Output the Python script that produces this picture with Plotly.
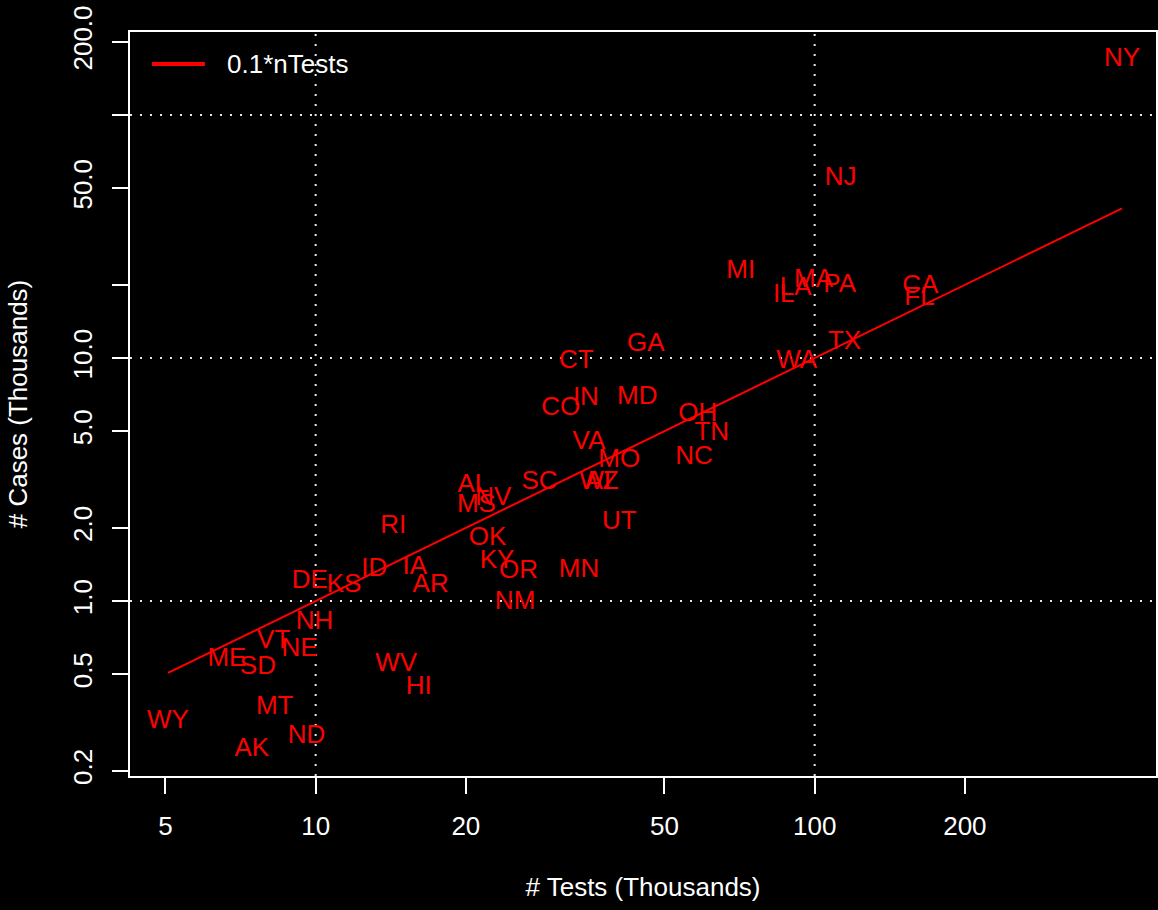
import plotly.graph_objects as go

# Data (thousands)
states = ["NY","NJ","MI","MA","PA","LA","IL","CA","FL","GA","TX","CT","WA","IN","MD","CO",
          "OH","TN","VA","NC","MO","SC","WI","AZ","AL","MS","NV","UT","RI","OK","KY","OR",
          "MN","NM","ID","IA","AR","DE","KS","NH","VT","NE","ME","SD","WV","HI","MT","ND",
          "AK","WY"]
tests = [413, 112.7, 71.1, 99.5, 112.2, 91.6, 86.7, 162.9, 162.2, 45.9, 114.8, 33.3, 92.0, 34.8,
         44.1, 31.0, 58.3, 62.2, 35.3, 57.3, 40.6, 28.1, 36.3, 37.5, 20.7, 21.0, 22.7, 40.6, 14.3,
         22.1, 23.1, 25.5, 33.7, 25.1, 13.1, 15.8, 17.0, 9.73, 11.4, 9.95, 8.24, 9.29, 6.64, 7.66,
         14.5, 16.1, 8.28, 9.59, 7.45, 5.06]
cases = [170, 55.0, 22.6, 20.9, 19.8, 19.4, 18.0, 19.6, 17.5, 11.4, 11.6, 9.72, 9.63, 6.84,
         6.91, 6.17, 5.88, 4.87, 4.47, 3.91, 3.77, 3.06, 3.06, 3.06, 3.00, 2.48, 2.63, 2.11, 2.02,
         1.80, 1.46, 1.32, 1.34, 0.99, 1.35, 1.38, 1.16, 1.20, 1.16, 0.812, 0.684, 0.629, 0.577,
         0.535, 0.550, 0.439, 0.363, 0.276, 0.244, 0.318]

x_ticks = [5, 10, 20, 50, 100, 200]
x_ticktext = ["5", "10", "20", "50", "100", "200"]
y_ticks = [0.2, 0.5, 1, 2, 5, 10, 20, 50, 100, 200]
y_ticktext = ["0.2", "0.5", "1.0", "2.0", "5.0", "10.0", "", "50.0", "", "200.0"]
grid_x = [10, 100]
grid_y = [1, 10, 100]
ratio = 0.1
legend_label = "0.1*nTests"

FONT = "Liberation Sans, Arial, Helvetica, sans-serif"
RED = "#ff0000"

line_x = [min(tests), max(tests)]
line_y = [ratio * v for v in line_x]

fig = go.Figure()
fig.add_trace(go.Scatter(x=line_x, y=line_y, mode="lines", name=legend_label,
                         line=dict(color=RED, width=2), showlegend=False, hoverinfo="skip"))
fig.add_trace(go.Scatter(x=tests, y=cases, mode="text", text=states,
                         textposition="middle center",
                         textfont=dict(color=RED, size=26, family=FONT),
                         showlegend=False))

shapes = []
for gx in grid_x:
    shapes.append(dict(type="line", xref="x", yref="paper", x0=gx, x1=gx, y0=0, y1=1,
                       line=dict(color="#e6e6e6", width=2, dash="2px,8px"), layer="below"))
for gy in grid_y:
    shapes.append(dict(type="line", xref="paper", yref="y", x0=0, x1=1, y0=gy, y1=gy,
                       line=dict(color="#e6e6e6", width=2, dash="2px,8px"), layer="below"))
# legend key (R-style, no box)
shapes.append(dict(type="line", xref="paper", yref="paper", x0=0.0214, x1=0.073,
                   y0=0.957, y1=0.957, line=dict(color=RED, width=4)))

fig.update_layout(
    width=1158, height=910,
    margin=dict(l=130, r=0, t=32, b=134),
    paper_bgcolor="black", plot_bgcolor="black",
    font=dict(family=FONT, size=26, color="white"),
    shapes=shapes,
    showlegend=False,
    annotations=[dict(text=legend_label, xref="paper", yref="paper", x=0.0924, y=0.957,
                      xanchor="left", yanchor="middle", showarrow=False,
                      font=dict(size=26, color="white", family=FONT))],
    xaxis=dict(type="log", range=[0.628, 2.684], tickvals=x_ticks, ticktext=x_ticktext,
               showgrid=False, zeroline=False, showline=True, linecolor="white", linewidth=2,
               mirror=True, ticks="outside", ticklen=16, tickwidth=2, tickcolor="white",
               ticklabelstandoff=10,
               title=dict(text="# Tests (Thousands)", standoff=38,
                          font=dict(size=26, color="white"))),
    yaxis=dict(type="log", range=[-0.7202, 2.3416], tickvals=y_ticks, ticktext=y_ticktext,
               tickangle=-90,
               showgrid=False, zeroline=False, showline=True, linecolor="white", linewidth=2,
               mirror=True, ticks="outside", ticklen=16, tickwidth=2, tickcolor="white",
               ticklabelstandoff=10,
               title=dict(text="# Cases (Thousands)", standoff=32,
                          font=dict(size=26, color="white"))),
)

fig.write_html("out.html", config={"displayModeBar": False},
               post_script="document.body.style.margin='0';document.body.style.background='black';")
